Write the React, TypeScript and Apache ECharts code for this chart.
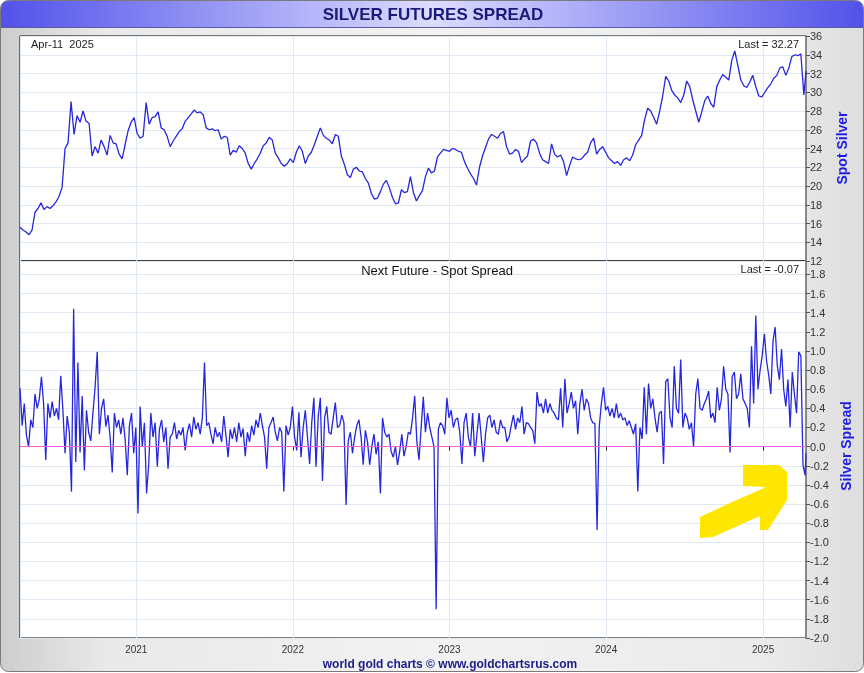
import React, { useEffect, useRef } from "react";
import * as echarts from "echarts";

// ---- Data ----
// Weekly spot silver closes, first point 2020-04-05, one every 7 days, last point = 2025-04-11
const spotSilver: number[] = [
  15.6, 15.3, 15.1, 14.8, 15.3, 17.2, 17.6, 18.2, 17.5, 17.8,
  17.6, 17.9, 18.3, 18.9, 19.8, 24.0, 24.6, 29.0, 25.5, 27.5,
  26.8, 28.0, 26.9, 26.7, 23.2, 24.2, 23.5, 24.9, 24.2, 23.3,
  25.4, 24.6, 24.5, 23.4, 22.9, 24.4, 25.9, 26.8, 27.3, 25.6,
  25.1, 25.3, 28.9, 26.6, 27.3, 27.4, 27.9, 26.2, 26.0, 25.3,
  24.2, 24.8, 25.3, 25.8, 26.1, 26.9, 27.3, 27.7, 28.1, 27.8,
  27.9, 27.6, 26.2, 26.0, 26.1, 25.9, 26.0, 25.0, 25.3, 25.2,
  23.3, 23.8, 23.6, 24.3, 24.0, 23.5, 22.4, 21.8, 22.4, 22.9,
  23.5, 24.3, 24.6, 25.2, 24.9, 23.5, 23.0, 22.4, 22.1, 22.4,
  22.9, 22.5, 23.6, 24.3, 23.7, 22.4, 23.2, 23.6, 24.4, 25.3,
  26.2, 25.4, 25.1, 24.9, 24.5, 25.5, 25.3, 23.2, 22.3, 21.2,
  20.9, 21.8, 22.0, 21.6, 21.5, 20.8, 20.3, 19.2, 18.6, 18.7,
  19.4, 20.2, 20.6, 19.8, 18.8, 18.1, 18.2, 19.6, 19.3, 19.4,
  21.0, 19.3, 18.4, 19.0, 19.5, 21.0, 21.9, 21.4, 21.6, 23.1,
  23.5, 23.9, 23.8, 23.7, 24.0, 23.9, 23.7, 23.6, 22.6, 21.9,
  21.3, 20.8, 20.1, 22.0, 23.2, 24.1, 25.0, 25.5, 25.3, 25.1,
  25.6, 25.8, 24.2, 23.4, 23.5, 23.9, 23.7, 22.5, 22.9, 23.2,
  24.8, 25.0, 24.6, 23.5, 22.8, 22.6, 22.4, 24.5, 23.4, 23.1,
  23.3, 22.6, 21.1, 22.2, 23.1, 22.9, 22.8, 22.9, 23.3, 23.6,
  24.6, 25.1, 23.4, 23.9, 24.2, 23.6, 23.0, 22.7, 22.4, 22.6,
  22.2, 22.8, 23.0, 22.7, 23.3, 24.4, 24.9, 25.4, 27.1, 28.3,
  28.0, 27.3, 26.6, 28.0, 29.6, 31.7, 31.2, 30.2, 29.7, 29.4,
  28.9, 29.7, 31.2, 30.6, 29.2, 28.0, 26.8, 27.9, 29.1, 29.6,
  28.8, 28.4, 30.6, 31.3, 31.9, 31.6, 31.3, 33.4, 34.4, 32.9,
  31.3, 30.7, 30.5, 31.1, 31.8, 30.6, 29.6, 29.5, 30.0, 30.5,
  30.9, 31.5, 31.8, 32.6, 32.7, 31.8, 32.6, 33.8, 34.0, 33.9,
  34.1, 29.7, 32.27,
];

// Next future - spot spread, first point 2020-04-05, one every 5 days, last point = 2025-04-11
const silverSpread: number[] = [
  0.61, 0.22, 0.45, 0.12, 0.0, 0.28, 0.2, 0.55, 0.4, 0.5,
  0.73, 0.45, -0.14, 0.45, 0.3, 0.47, 0.32, 0.4, 0.28, 0.74,
  0.38, -0.07, 0.32, 0.15, -0.47, 1.44, -0.16, 0.88, -0.06, 0.53,
  -0.25, 0.38, 0.15, 0.06, 0.35, 0.62, 0.99, 0.13, 0.4, 0.5,
  0.21, 0.33, 0.1, -0.27, 0.35, 0.2, 0.28, 0.13, 0.3, 0.08,
  -0.3, 0.22, 0.35, -0.07, 0.2, -0.7, 0.42, 0.0, 0.25, -0.49,
  -0.19, 0.35, 0.1, 0.25, -0.21, 0.18, 0.28, 0.05, 0.2, -0.23,
  0.1, 0.13, 0.25, 0.08, 0.17, 0.12, 0.2, -0.04, 0.15, 0.24,
  0.1, 0.31, 0.18, 0.25, 0.13, 0.3, 0.88, 0.22, 0.25, 0.13,
  0.03, 0.2, 0.1, 0.15, 0.05, 0.32, 0.12, -0.11, 0.18, 0.08,
  0.2, 0.05, 0.25, 0.1, 0.19, -0.1, 0.15, 0.05, 0.22, 0.12,
  0.28, 0.2, 0.35, 0.22, 0.1, -0.23, 0.2, 0.25, 0.31, 0.15,
  0.06, 0.2, 0.15, -0.47, 0.22, 0.12, 0.2, 0.42, 0.1, -0.04,
  0.36, -0.11, 0.2, 0.38, 0.1, -0.18, 0.25, 0.51, -0.21, 0.31,
  0.51, -0.36, 0.3, 0.42, 0.15, 0.13, 0.3, 0.46, 0.2, 0.22,
  0.33, 0.25, -0.61, 0.06, 0.15, -0.07, 0.1, 0.22, 0.28, 0.1,
  -0.19, 0.17, 0.05, -0.19, 0.0, 0.13, -0.08, 0.05, -0.49, 0.3,
  0.15, 0.1, 0.13, -0.05, -0.11, 0.0, -0.19, -0.05, 0.13, -0.1,
  0.0, 0.15, 0.13, 0.3, 0.53, 0.05, -0.14, 0.2, 0.52, 0.15,
  0.35, 0.2, 0.1, 0.0, -1.7, 0.18, 0.25, 0.22, 0.13, 0.51,
  0.3, 0.38, 0.2, 0.28, 0.3, 0.15, -0.18, 0.25, 0.35, 0.1,
  0.0, 0.35, -0.1, 0.13, 0.35, 0.1, -0.16, 0.13, 0.3, 0.33,
  0.2, 0.28, 0.15, 0.13, 0.28, 0.2, 0.2, 0.05, 0.1, 0.22,
  0.33, 0.18, 0.3, 0.25, 0.42, 0.13, 0.25, 0.24, 0.2, 0.17,
  0.03, 0.57, 0.42, 0.45, 0.35, 0.5, 0.35, 0.45, 0.38, 0.35,
  0.3, 0.28, 0.61, 0.2, 0.71, 0.35, 0.45, 0.57, 0.4, 0.48,
  0.13, 0.45, 0.6, 0.38, 0.5, 0.45, 0.3, 0.25, 0.24, -0.87,
  0.2, 0.45, 0.62, 0.38, 0.42, 0.32, 0.4, 0.3, 0.45, 0.3,
  0.35, 0.28, 0.3, 0.22, 0.27, 0.2, 0.13, 0.24, -0.47, 0.2,
  0.08, 0.62, 0.13, 0.66, 0.4, 0.5, 0.3, 0.15, 0.35, 0.37,
  -0.18, 0.68, 0.71, 0.3, 0.2, 0.84, 0.4, 0.35, 0.91, 0.2,
  0.35, 0.3, 0.18, 0.25, 0.0, 0.55, 0.71, 0.4, 0.38, 0.45,
  0.5, 0.58, 0.3, 0.35, 0.25, 0.62, 0.38, 0.5, 0.84, 0.6,
  0.55, -0.06, 0.73, 0.78, 0.5, 0.55, 0.76, 0.5, 0.45, 0.4,
  0.2, 1.05, 0.45, 1.37, 0.6, 0.8, 0.95, 1.18, 0.9, 0.75,
  0.55, 1.1, 1.25, 0.85, 0.7, 1.02, 0.6, 0.42, 0.7, 0.2,
  0.78, 0.55, 0.35, 0.99, 0.95, -0.19, -0.3, -0.07,
];

const SPOT_STEP_DAYS = 7;
const SPREAD_STEP_DAYS = 5;
const START = new Date(2020, 3, 5).getTime();
const END = new Date(2025, 3, 11).getTime();
const DAY = 86400000;
const YEAR = 365 * DAY;

const spotAxis = { min: 12, max: 36, interval: 2 };
const spreadAxis = { min: -2.0, max: 1.94, interval: 0.2 };

const titleText = "SILVER FUTURES SPREAD";
const dateText = "Apr-11\u00a0 2025";
const lastSpot = "Last = 32.27";
const lastSpread = "Last = -0.07";
const lowerTitle = "Next Future - Spot Spread";
const footerText = "world gold charts \u00a9 www.goldchartsrus.com";

function toSeries(values: number[], stepDays: number): [number, number][] {
  return values.map((v, i) =>
    i === values.length - 1 ? [END, v] : [START + i * stepDays * DAY, v]
  );
}

const NARROW = "'Liberation Sans Narrow', 'Liberation Sans', Arial, sans-serif";
const SANS = "'Liberation Sans', Arial, sans-serif";
const LINE_BLUE = "#2626dc";
const GRID_LINE = "#dfe9f4";

export default function App() {
  const ref = useRef<HTMLDivElement>(null);
  useEffect(() => {
    if (!ref.current) return;
    const chart = echarts.init(ref.current, null, { renderer: "svg" });

    const xCommon = {
      type: "time",
      min: START,
      max: END,
      minInterval: YEAR,
      maxInterval: YEAR * 1.01,
    };

    const yearFormatter = (v: number) => {
      const d = new Date(v);
      if (d.getMonth() === 0 && d.getDate() === 1) return String(d.getFullYear());
      return "";
    };

    const spreadFormatter = (v: number) => {
      const q = v / 0.2;
      if (Math.abs(q - Math.round(q)) > 1e-6) return "";
      if (Math.abs(v) < 1e-9) return "0.0";
      return v.toFixed(1);
    };

    const option: any = {
      animation: false,
      textStyle: { fontFamily: SANS },
      grid: [
        { left: 20, top: 36, width: 786, height: 225, show: true, backgroundColor: "#ffffff", borderColor: "#000", borderWidth: 1 },
        { left: 20, top: 261, width: 786, height: 377, show: true, backgroundColor: "#ffffff", borderColor: "#000", borderWidth: 1 },
      ],
      xAxis: [
        {
          ...xCommon,
          gridIndex: 0,
          axisLabel: { show: false },
          axisTick: { show: false },
          axisLine: { show: false },
          splitLine: { show: true, lineStyle: { color: GRID_LINE, width: 1 } },
        },
        {
          ...xCommon,
          gridIndex: 1,
          axisLabel: {
            show: true,
            formatter: yearFormatter,
            fontSize: 10,
            color: "#333",
            fontFamily: NARROW,
            margin: 6,
            showMinLabel: false,
            showMaxLabel: false,
          },
          axisTick: { show: true, length: 4, lineStyle: { color: "#333" } },
          axisLine: { show: true, lineStyle: { color: "#000", width: 1 } },
          splitLine: { show: true, lineStyle: { color: GRID_LINE, width: 1 } },
        },
      ],
      yAxis: [
        {
          type: "value",
          gridIndex: 0,
          position: "right",
          min: spotAxis.min,
          max: spotAxis.max,
          interval: spotAxis.interval,
          axisLine: { show: true, lineStyle: { color: "#888", width: 2 } },
          axisTick: { show: true, length: 4, lineStyle: { color: "#555" } },
          axisLabel: { fontSize: 11, color: "#333", margin: 4, fontFamily: NARROW },
          splitLine: { show: true, lineStyle: { color: GRID_LINE, width: 1 } },
        },
        {
          type: "value",
          gridIndex: 1,
          position: "right",
          min: spreadAxis.min,
          max: spreadAxis.max,
          interval: spreadAxis.interval,
          axisLine: { show: true, lineStyle: { color: "#888", width: 2 } },
          axisTick: { show: true, length: 4, lineStyle: { color: "#555" } },
          axisLabel: { fontSize: 11, color: "#333", margin: 4, fontFamily: NARROW, formatter: spreadFormatter },
          splitLine: { show: true, lineStyle: { color: GRID_LINE, width: 1 } },
        },
      ],
      series: [
        {
          name: "Spot Silver",
          type: "line",
          xAxisIndex: 0,
          yAxisIndex: 0,
          data: toSeries(spotSilver, SPOT_STEP_DAYS),
          symbol: "none",
          lineStyle: { color: LINE_BLUE, width: 1.3 },
          silent: true,
        },
        {
          name: "Silver Spread",
          type: "line",
          xAxisIndex: 1,
          yAxisIndex: 1,
          data: toSeries(silverSpread, SPREAD_STEP_DAYS),
          symbol: "none",
          lineStyle: { color: LINE_BLUE, width: 1.3 },
          silent: true,
          markLine: {
            silent: true,
            symbol: ["none", "none"],
            label: { show: false },
            lineStyle: { color: "#f060e0", width: 1, type: "solid" },
            data: [{ yAxis: 0 }],
          },
        },
      ],
      graphic: {
        elements: [
          {
            type: "rect",
            z: -100,
            shape: { x: 0.5, y: 0.5, width: 863, height: 671, r: 8 },
            style: {
              fill: new echarts.graphic.LinearGradient(0, 0, 1, 0, [
                { offset: 0, color: "#cdcdcd" },
                { offset: 0.12, color: "#e9e9e9" },
                { offset: 0.5, color: "#f2f2f2" },
                { offset: 0.88, color: "#ebebeb" },
                { offset: 1, color: "#dedede" },
              ]),
              stroke: "#7a7a7a",
              lineWidth: 1,
            },
          },
          {
            type: "rect",
            z: -99,
            shape: { x: 1, y: 1, width: 862, height: 26, r: [7, 7, 0, 0] },
            style: {
              fill: new echarts.graphic.LinearGradient(0, 0, 1, 0, [
                { offset: 0, color: "#5252ea" },
                { offset: 0.5, color: "#dcdcff" },
                { offset: 1, color: "#5252ea" },
              ]),
            },
          },
          {
            type: "line",
            z: -98,
            shape: { x1: 1, y1: 27.5, x2: 863, y2: 27.5 },
            style: { stroke: "#5a5aa8", lineWidth: 1 },
          },
          {
            type: "text",
            z: 100,
            x: 433,
            y: 14,
            style: { text: titleText, fill: "#1a1a78", font: `bold 17px ${NARROW}`, textAlign: "center", textVerticalAlign: "middle", verticalAlign: "middle" },
          },
          {
            type: "text",
            z: 100,
            x: 31,
            y: 44,
            style: { text: dateText, fill: "#222", font: `11px ${SANS}`, textAlign: "left", textVerticalAlign: "middle", verticalAlign: "middle" },
          },
          {
            type: "text",
            z: 100,
            x: 799,
            y: 44,
            style: { text: lastSpot, fill: "#222", font: `11px ${SANS}`, textAlign: "right", textVerticalAlign: "middle", verticalAlign: "middle" },
          },
          {
            type: "text",
            z: 100,
            x: 437,
            y: 270,
            style: { text: lowerTitle, fill: "#111", font: `13px ${SANS}`, textAlign: "center", textVerticalAlign: "middle", verticalAlign: "middle" },
          },
          {
            type: "text",
            z: 100,
            x: 799,
            y: 269,
            style: { text: lastSpread, fill: "#222", font: `11px ${SANS}`, textAlign: "right", textVerticalAlign: "middle", verticalAlign: "middle" },
          },
          {
            type: "text",
            z: 100,
            x: 842,
            y: 148,
            rotation: Math.PI / 2,
            style: { text: "Spot Silver", fill: "#1c1ce6", font: `bold 14px ${SANS}`, textAlign: "center", textVerticalAlign: "middle", verticalAlign: "middle" },
          },
          {
            type: "text",
            z: 100,
            x: 846,
            y: 446,
            rotation: Math.PI / 2,
            style: { text: "Silver Spread", fill: "#1c1ce6", font: `bold 14px ${SANS}`, textAlign: "center", textVerticalAlign: "middle", verticalAlign: "middle" },
          },
          {
            type: "text",
            z: 100,
            x: 450,
            y: 664,
            style: { text: footerText, fill: "#1c1c8a", font: `bold 12px ${NARROW}`, textAlign: "center", textVerticalAlign: "middle", verticalAlign: "middle" },
          },
          {
            type: "polygon",
            z: 100,
            shape: {
              points: [
                [700, 517], [730, 503], [766, 487], [743, 486], [743, 465],
                [779, 465], [787, 472], [787, 500], [768, 530], [760, 530],
                [760, 516], [713, 537], [700, 538],
              ],
            },
            style: { fill: "#ffe600" },
          },
        ],
      },
    };

    chart.setOption(option);
    return () => chart.dispose();
  }, []);

  return (
    <div
      ref={ref}
      style={{ position: "fixed", left: 0, top: 0, width: 864, height: 673 }}
    />
  );
}
